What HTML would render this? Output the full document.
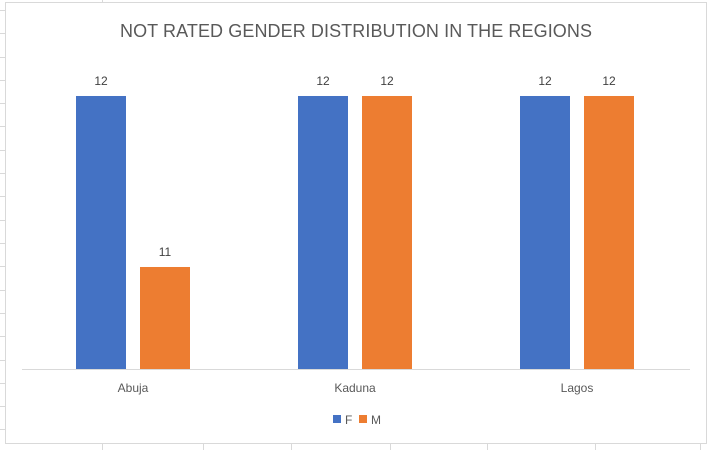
<!DOCTYPE html>
<html><head><style>
body{margin:0;width:712px;height:450px;background:#fff;overflow:hidden;font-family:"Liberation Sans",sans-serif}
</style></head><body>
<svg width="712" height="450" id="svg">
<g id="grid" stroke="#d9d9d9" stroke-width="1"></g>
<rect x="5.5" y="2.5" width="701" height="441" fill="#fff" stroke="#d9d9d9"/>
<text x="356" y="37" text-anchor="middle" font-size="18" textLength="472" fill="#595959">NOT RATED GENDER DISTRIBUTION IN THE REGIONS</text>
<line x1="22" y1="369.5" x2="690" y2="369.5" stroke="#d9d9d9"/>
<g id="bars"></g>
<g>
<rect x="333" y="415" width="8" height="8" fill="#4472c4"/>
<text x="345" y="424" font-size="12" fill="#595959">F</text>
<rect x="359" y="415" width="8" height="8" fill="#ed7d31"/>
<text x="371" y="424" font-size="12" fill="#595959">M</text>
</g>
</svg>
<script>
const categories=["Abuja","Kaduna","Lagos"];
const seriesF=[12,12,12];
const seriesM=[11,12,12];
const ns="http://www.w3.org/2000/svg";
const svg=document.getElementById('svg');
const g=document.getElementById('bars');
const grid=document.getElementById('grid');
for(let y=10;y<450;y+=23.3){const l=document.createElementNS(ns,'line');l.setAttribute('x1',0);l.setAttribute('x2',5);l.setAttribute('y1',Math.round(y)+.5);l.setAttribute('y2',Math.round(y)+.5);grid.appendChild(l);}
[102,203,291,390,487,595,700].forEach(x=>{const l=document.createElementNS(ns,'line');l.setAttribute('x1',x+.5);l.setAttribute('x2',x+.5);l.setAttribute('y1',443);l.setAttribute('y2',450);grid.appendChild(l);});
[102].forEach(x=>{const l=document.createElementNS(ns,'line');l.setAttribute('x1',x+.5);l.setAttribute('x2',x+.5);l.setAttribute('y1',0);l.setAttribute('y2',3);grid.appendChild(l);});
const yMin=10.4035,pxPerUnit=171,base=369;
const yS=v=>base-(v-yMin)*pxPerUnit;
const x0=22,catW=222;
function bar(cx,v,color,name){
  const y=yS(v);
  const r=document.createElementNS(ns,'rect');
  r.setAttribute('x',cx);r.setAttribute('y',y);r.setAttribute('width',50);r.setAttribute('height',base-y);r.setAttribute('fill',color);
  
  
  g.appendChild(r);
  const t=document.createElementNS(ns,'text');
  t.setAttribute('x',cx+25);t.setAttribute('y',y-11);t.setAttribute('text-anchor','middle');t.setAttribute('font-size','12');t.setAttribute('fill','#404040');
  t.textContent=v;
  
  
  g.appendChild(t);
}
categories.forEach((c,i)=>{
  const cx=x0+catW*i+catW/2;
  bar(cx-57,seriesF[i],'#4472c4','bar-f-'+c.toLowerCase());
  bar(cx+7,seriesM[i],'#ed7d31','bar-m-'+c.toLowerCase());
  const t=document.createElementNS(ns,'text');
  t.setAttribute('x',cx);t.setAttribute('y',392);t.setAttribute('text-anchor','middle');t.setAttribute('font-size','12');t.setAttribute('fill','#595959');
  t.textContent=c;
  
  
  g.appendChild(t);
});
</script>
</body></html>
